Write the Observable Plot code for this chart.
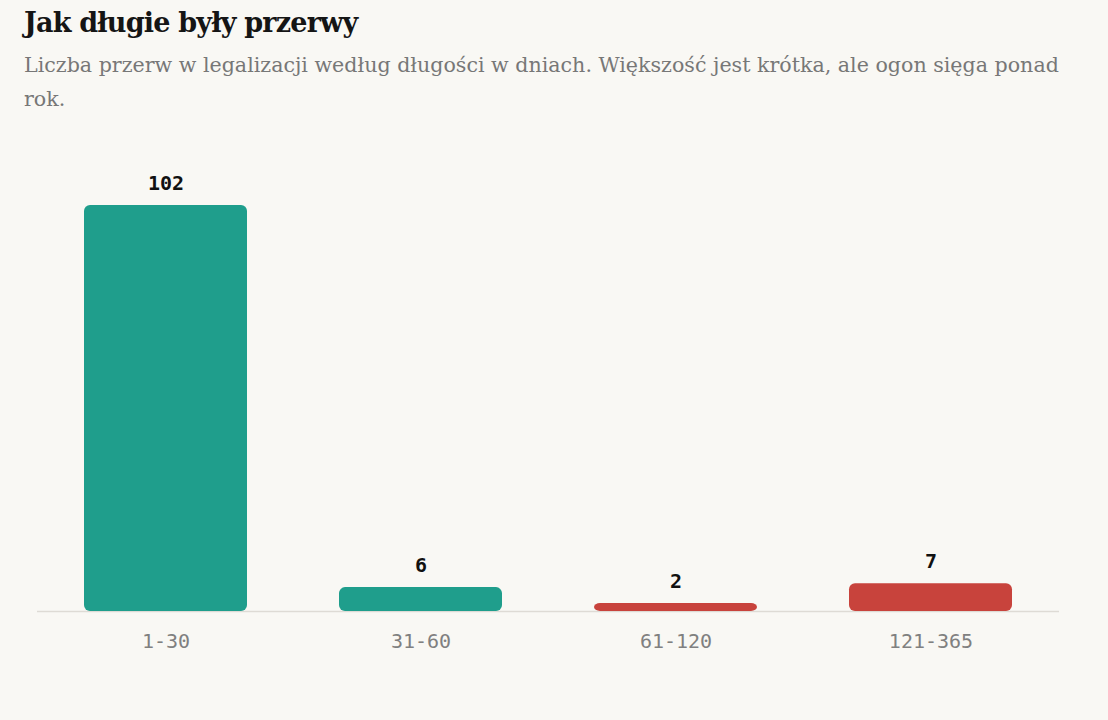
<!DOCTYPE html>
<html>
<head>
<meta charset="utf-8">
<script src="https://cdn.jsdelivr.net/npm/d3@7"></script>
<script src="https://cdn.jsdelivr.net/npm/@observablehq/plot@0.6"></script>
<style>
  html, body { margin: 0; padding: 0; background: #f9f8f4; }
  body { width: 1108px; height: 720px; overflow: hidden; }
  #head { height: 120px; padding-left: 24px; box-sizing: border-box; }
  h1 { margin: 0; padding-top: 6px; font-family: "DejaVu Serif", serif; font-weight: bold; font-size: 27px; color: #151515; letter-spacing: -0.8px; line-height: 34px; }
  p { margin: 8px 0 0 0; width: 1062px; font-family: "DejaVu Serif", serif; font-size: 20.6px; line-height: 34px; color: #777; }
</style>
</head>
<body>
<div id="head">
  <h1>Jak długie były przerwy</h1>
  <p>Liczba przerw w legalizacji według długości w dniach. Większość jest krótka, ale ogon sięga ponad rok.</p>
</div>
<div id="chart"></div>
<script>
const categories = ["1-30", "31-60", "61-120", "121-365"];
const counts = [102, 6, 2, 7];
const groups = ["short", "short", "long", "long"];

const data = categories.map((c, i) => ({ bin: c, n: counts[i], g: groups[i] }));

const chart = Plot.plot({
  width: 1108,
  height: 600,
  marginLeft: 37,
  marginRight: 49,
  marginTop: 85,
  marginBottom: 109,
  style: { background: "transparent", fontFamily: "DejaVu Sans Mono, monospace" },
  x: { domain: categories, paddingInner: 0.36, paddingOuter: 0.18, label: null },
  y: { domain: [0, 102], axis: null },
  color: { domain: ["short", "long"], range: ["#1f9e8c", "#c8433c"] },
  marks: [
    Plot.ruleY([0], { stroke: "#dedbd5", strokeWidth: 1.5 }),
    Plot.barY(data, { x: "bin", y: "n", fill: "g", rx: 6 }),
    Plot.text(data, { x: "bin", y: "n", text: d => String(d.n), dy: -22, fontSize: 20, fontWeight: "bold", fill: "#111" }),
    Plot.axisX({ tickSize: 0, tickPadding: 22, fontSize: 20, color: "#808080", label: null })
  ]
});
document.getElementById("chart").appendChild(chart);
</script>
</body>
</html>
